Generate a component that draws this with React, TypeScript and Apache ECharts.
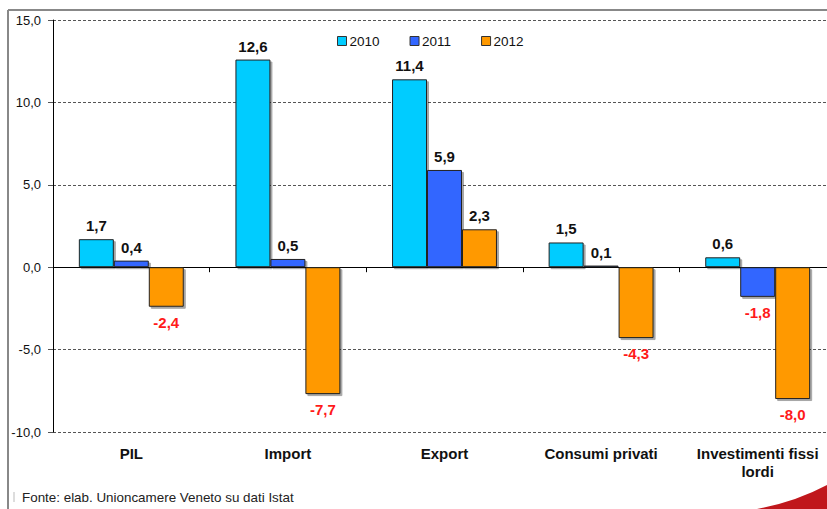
import React, { useEffect, useRef } from "react";
import * as echarts from "echarts";

const categories = ["PIL", "Import", "Export", "Consumi privati", "Investimenti fissi\nlordi"];
const seriesNames = ["2010", "2011", "2012"];
const values2010 = [1.7, 12.6, 11.4, 1.5, 0.6];
const values2011 = [0.4, 0.5, 5.9, 0.1, -1.8];
const values2012 = [-2.4, -7.7, 2.3, -4.3, -8.0];
const colors = ["#00CCFF", "#3366FF", "#FF9900"];
const sourceText = "Fonte: elab. Unioncamere Veneto su dati Istat";

const FONT = "'Liberation Sans', Arial, sans-serif";
const fmt = (v: number) => v.toFixed(1).replace(".", ",");

echarts.graphic.registerShape(
  "swoosh",
  echarts.graphic.extendPath("M757 509 Q795 502 827 485 L840 480 L840 509 Z", {})
);

export default function App() {
  const ref = useRef<HTMLDivElement>(null);
  useEffect(() => {
    document.body.style.margin = "0";
    document.body.style.overflow = "hidden";
    const chart = echarts.init(ref.current!, null, { renderer: "svg" });
    const allValues = [values2010, values2011, values2012];
    const series = allValues.map((vals, i) => ({
      name: seriesNames[i],
      type: "bar",
      xAxisIndex: 0,
      barGap: "0%",
      barCategoryGap: "33%",
      itemStyle: {
        color: colors[i],
        borderColor: "#222",
        borderWidth: 1,
        shadowColor: "rgba(0,0,0,0.35)",
        shadowOffsetX: 2,
        shadowOffsetY: 2,
        shadowBlur: 0,
      },
      data: vals.map((v) => ({
        value: v,
        label: {
          show: true,
          position: v >= 0 ? "top" : "bottom",
          distance: v >= 0 ? 6 : 8,
          color: v >= 0 ? "#111" : "#FF1A1A",
          fontWeight: "bold",
          fontSize: 15,
          fontFamily: FONT,
          formatter: () => fmt(v),
        },
      })),
    }));
    chart.setOption({
      animation: false,
      textStyle: { fontFamily: FONT },
      legend: {
        left: 332,
        top: 29,
        icon: "rect",
        itemWidth: 9,
        itemHeight: 9,
        itemGap: 30,
        data: seriesNames.map((n, i) => ({
          name: n,
          itemStyle: { color: colors[i], borderColor: "#333", borderWidth: 1 },
        })),
        textStyle: { fontSize: 13.5, color: "#111", fontFamily: FONT, padding: [0, 0, 0, -2] },
      },
      grid: { left: 53, top: 20, width: 783, height: 412, containLabel: false },
      xAxis: [
        {
          type: "category",
          data: categories,
          axisLine: { onZero: true, lineStyle: { color: "#000", width: 1 } },
          axisTick: { show: true, length: 5, lineStyle: { color: "#000" } },
          axisLabel: { show: false },
          splitLine: { show: false },
        },
        {
          type: "category",
          data: categories,
          position: "bottom",
          axisLine: { show: false, onZero: false },
          axisTick: { show: false },
          axisLabel: {
            show: true,
            interval: 0,
            margin: 12,
            fontSize: 15,
            fontWeight: "bold",
            color: "#111",
            fontFamily: FONT,
            lineHeight: 18,
          },
        },
      ],
      yAxis: {
        type: "value",
        min: -10,
        max: 15,
        interval: 5,
        axisLine: { show: true, lineStyle: { color: "#000" } },
        axisTick: { show: true, length: 5, lineStyle: { color: "#555" } },
        axisLabel: {
          margin: 12,
          fontSize: 13,
          color: "#111",
          fontFamily: FONT,
          formatter: (v: number) => fmt(v),
        },
        splitLine: { show: true, lineStyle: { color: "#555", type: [3, 2], width: 1 } },
      },
      series,
      graphic: [
        { type: "line", shape: { x1: 8, y1: 10, x2: 840, y2: 10 }, style: { stroke: "#888", lineWidth: 2 } },
        { type: "line", shape: { x1: 8, y1: 10, x2: 8, y2: 509 }, style: { stroke: "#888", lineWidth: 2 } },
        { type: "line", shape: { x1: 14, y1: 492, x2: 14, y2: 502 }, style: { stroke: "#bbb", lineWidth: 1 } },
        {
          type: "text",
          x: 22,
          y: 497,
          style: { text: sourceText, font: `13.4px ${FONT}`, fill: "#222", textVerticalAlign: "middle" },
        },
        { type: "swoosh", x: 0, y: 0, style: { fill: "#C0171C" } },
      ],
    });
    return () => chart.dispose();
  }, []);
  return <div ref={ref} style={{ width: 840, height: 509 }} />;
}
